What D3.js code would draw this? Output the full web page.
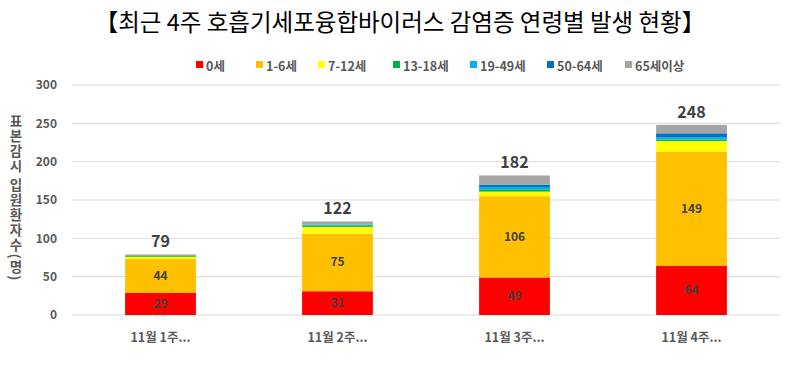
<!DOCTYPE html>
<html><head><meta charset="utf-8">
<script src="https://cdn.jsdelivr.net/npm/d3@7"></script>
<style>body{margin:0;background:#fff}svg{display:block}</style>
</head><body>
<svg id="c" width="800" height="371"></svg>
<script>
const categories = ["11월 1주...", "11월 2주...", "11월 3주...", "11월 4주..."];
const seriesNames = ["0세", "1-6세", "7-12세", "13-18세", "19-49세", "50-64세", "65세이상"];
const age0 = [29, 31, 49, 64];
const age1_6 = [44, 75, 106, 149];
const age7_12 = [3, 9, 6, 14];
const age13_18 = [1, 2, 3, 2];
const age19_49 = [0, 1, 3, 3];
const age50_64 = [0, 0, 3, 5];
const age65 = [2, 4, 12, 11];
const totals = [79, 122, 182, 248];
const yTicks = [0, 50, 100, 150, 200, 250, 300];
const colors = ["#FF0000", "#FFC000", "#FFFF00", "#00B050", "#00B0F0", "#0070C0", "#A5A5A5"];
const title = "【최근 4주 호흡기세포융합바이러스 감염증 연령별 발생 현황】";
const yTitle = "표본감시 입원환자수(명)";

(function () {
const series = [age0, age1_6, age7_12, age13_18, age19_49, age50_64, age65];
const rows = categories.map((c, i) => {
  const r = {cat: c};
  seriesNames.forEach((s, j) => r[s] = series[j][i]);
  return r;
});
const stacked = d3.stack().keys(seriesNames)(rows);

const svg = d3.select("#c");
const font = "'Noto Sans CJK KR', 'Noto Sans', sans-serif";
const pL = 72, pR = 780, pT = 85, pB = 315;
const x = d3.scaleBand().domain(categories).range([pL, pR]).paddingInner(0).paddingOuter(0);
const y = d3.scaleLinear().domain([0, 300]).range([pB, pT]);
const barW = x.bandwidth() * 0.4;

svg.append("text").attr("x", 400).attr("y", 31).attr("text-anchor", "middle")
  .attr("font-family", font).attr("font-size", 23.5).attr("fill", "#000").text(title);

svg.append("g").selectAll("line").data(yTicks).join("line")
  .attr("x1", pL).attr("x2", pR)
  .attr("y1", d => y(d)).attr("y2", d => y(d))
  .attr("stroke", "#d9d9d9").attr("stroke-width", 1);

const yAxis = d3.axisLeft(y).tickValues(yTicks).tickSize(0).tickPadding(15);
const ya = svg.append("g").attr("transform", `translate(${pL},0)`).call(yAxis);
ya.select(".domain").remove();
ya.selectAll("text").attr("font-family", font).attr("font-size", 12).attr("font-weight", "bold").attr("fill", "#595959");

svg.append("text").attr("x", 16).attr("y", 114)
  .style("writing-mode", "vertical-rl")
  .attr("font-family", font).attr("font-size", 13.5).attr("font-weight", "bold").attr("fill", "#595959")
  .attr("letter-spacing", 1.5)
  .text(yTitle);

svg.append("g").selectAll("g").data(stacked).join("g")
  .attr("fill", (d, i) => colors[i])
  .selectAll("rect").data(d => d).join("rect")
  .attr("x", d => x(d.data.cat) + (x.bandwidth() - barW) / 2)
  .attr("width", barW)
  .attr("y", d => y(d[1]))
  .attr("height", d => y(d[0]) - y(d[1]));

stacked.slice(0, 2).forEach(s => {
  svg.append("g").selectAll("text").data(s).join("text")
    .attr("x", d => x(d.data.cat) + x.bandwidth() / 2)
    .attr("y", d => (y(d[0]) + y(d[1])) / 2 + 4)
    .attr("text-anchor", "middle")
    .attr("font-family", font).attr("font-size", 12).attr("font-weight", "bold").attr("fill", "#404040")
    .text(d => d[1] - d[0]);
});

svg.append("g").selectAll("text").data(totals).join("text")
  .attr("x", (d, i) => x(categories[i]) + x.bandwidth() / 2)
  .attr("y", d => y(d) - 7)
  .attr("text-anchor", "middle")
  .attr("font-family", font).attr("font-size", 16).attr("font-weight", "bold").attr("fill", "#404040")
  .text(d => d);

const xAxis = d3.axisBottom(x).tickSize(0).tickPadding(18);
const xa = svg.append("g").attr("transform", `translate(0,${pB})`).call(xAxis);
xa.select(".domain").remove();
xa.selectAll("text").attr("font-family", font).attr("font-size", 12.5).attr("font-weight", "bold").attr("fill", "#595959");

const legX = [196, 256, 318, 393, 470, 547, 625];
const lg = svg.append("g").selectAll("g").data(seriesNames).join("g")
  .attr("transform", (d, i) => `translate(${legX[i]},71)`);
lg.append("rect").attr("x", 0).attr("y", -10).attr("width", 7).attr("height", 7).attr("fill", (d, i) => colors[i]);
lg.append("text").attr("x", 10).attr("y", 0)
  .attr("font-family", font).attr("font-size", 12.5).attr("font-weight", "bold").attr("fill", "#595959")
  .text(d => d);
})();
</script>
</body></html>
